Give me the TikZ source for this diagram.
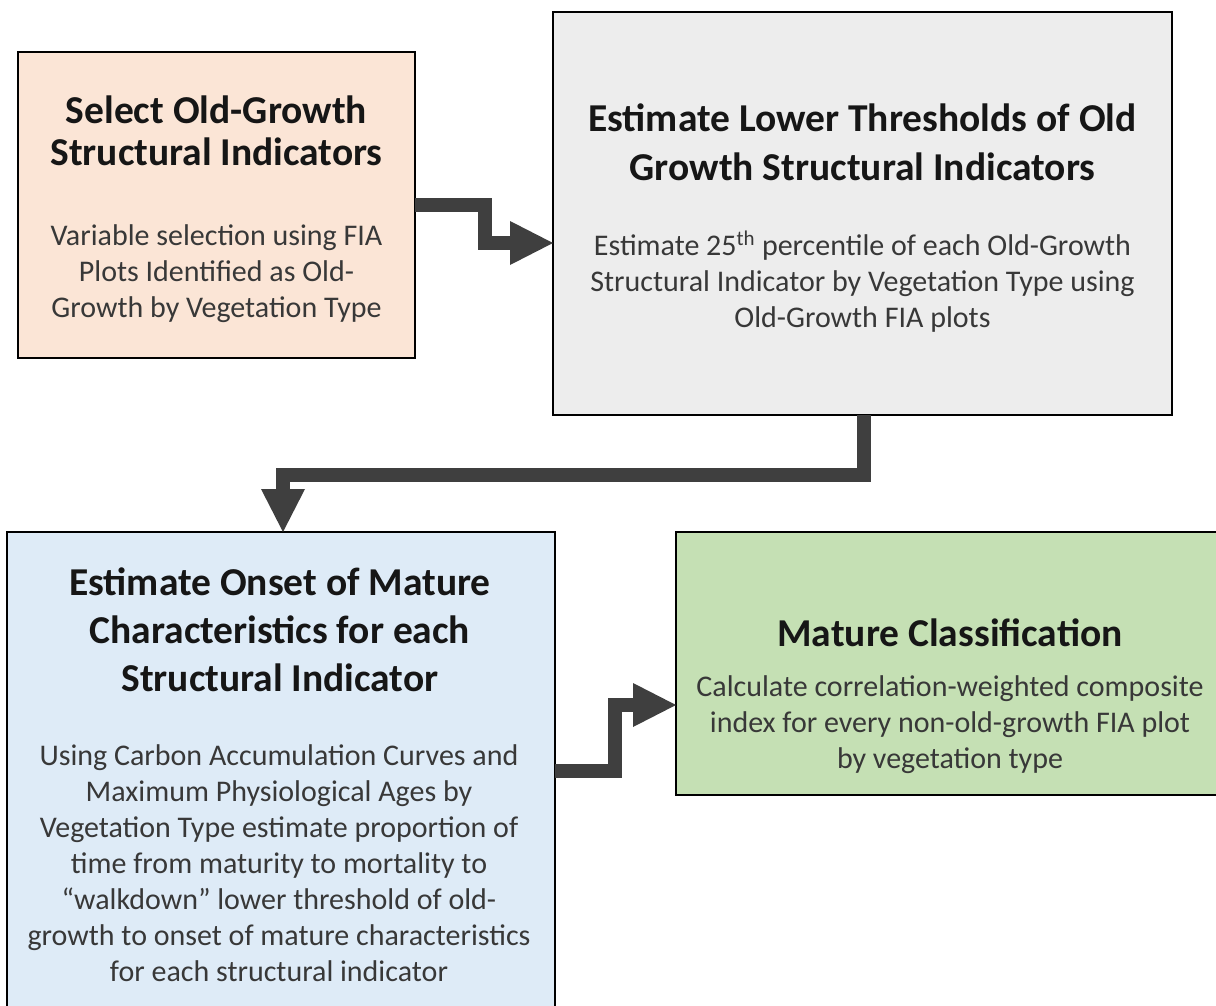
\documentclass[tikz,border=0pt]{standalone}
\usepackage{fontspec}
\setmainfont{Carlito}
\usetikzlibrary{arrows.meta}
\definecolor{salmonfill}{HTML}{FBE5D6}
\definecolor{grayfill}{HTML}{EDEDED}
\definecolor{bluefill}{HTML}{DEEBF7}
\definecolor{greenfill}{HTML}{C5E0B4}
\definecolor{arrowgray}{HTML}{3F3F3F}
\definecolor{titlecol}{HTML}{161616}
\definecolor{bodycol}{HTML}{383838}
\begin{document}
\begin{tikzpicture}[x=1pt,y=-1pt,
  box/.style={draw=black, line width=2.5pt, inner sep=0pt, outer sep=0pt},
  ttl/.style={align=center, inner sep=0pt, anchor=base, text=titlecol,
    font=\fontsize{39.5}{48}\selectfont\bfseries},
  ttltight/.style={ttl, font=\fontsize{39.5}{43}\selectfont\bfseries},
  bdy/.style={align=center, inner sep=0pt, anchor=base, text=bodycol,
    font=\fontsize{30}{36}\selectfont},
  conn/.style={draw=arrowgray, line width=14pt, line join=miter,
    -{Triangle[length=43pt,width=44pt,line width=0pt]}}
]
\useasboundingbox (0,0) rectangle (1216,1006);
\clip (0,0) rectangle (1216,1006);
\fill[white] (0,0) rectangle (1216,1006);

% boxes
\node[box, fill=salmonfill, minimum width=397pt, minimum height=306pt] (b1) at (216.5,205) {};
\node[box, fill=grayfill, minimum width=619pt, minimum height=403pt] (b2) at (862.5,213.5) {};
\node[box, fill=bluefill, minimum width=548pt, minimum height=498pt] (b3) at (281,781) {};
\node[box, fill=greenfill, minimum width=564pt, minimum height=263pt] (b4) at (958,663.5) {};

% texts (anchored at the baseline of the last line)
\node[ttltight] (t1) at (216.5,166) {Select Old-Growth\\Structural Indicators};
\node[bdy] (d1) at (216.5,317) {Variable selection using FIA\\Plots Identified as Old-\\Growth by Vegetation Type};

\node[ttl] (t2) at (862.5,180) {Estimate Lower Thresholds of Old\\Growth Structural Indicators};
\node[bdy] (d2) at (862.5,327) {Estimate 25\textsuperscript{th} percentile of each Old-Growth\\Structural Indicator by Vegetation Type using\\Old-Growth FIA plots};

\node[ttl] (t3) at (280,691) {Estimate Onset of Mature\\Characteristics for each\\Structural Indicator};
\node[bdy] (d3) at (279,981) {Using Carbon Accumulation Curves and\\Maximum Physiological Ages by\\Vegetation Type estimate proportion of\\time from maturity to mortality to\\“walkdown” lower threshold of old-\\growth to onset of mature characteristics\\for each structural indicator};

\node[ttl] (t4) at (950,646) {Mature Classification};
\node[bdy] (d4) at (950,768) {Calculate correlation-weighted composite\\index for every non-old-growth FIA plot\\by vegetation type};

% connectors
\draw[conn] (b1.east) -- ++(70,0) |- ([yshift=-29.5pt]b2.west);
\draw[conn] ([xshift=1.5pt]b2.south) -- ++(0,60) -| ([xshift=2pt]b3.north);
\draw[conn] ([yshift=10pt]b3.east) -- ++(60,0) |- ([yshift=-41.5pt]b4.west);
\end{tikzpicture}
\end{document}
